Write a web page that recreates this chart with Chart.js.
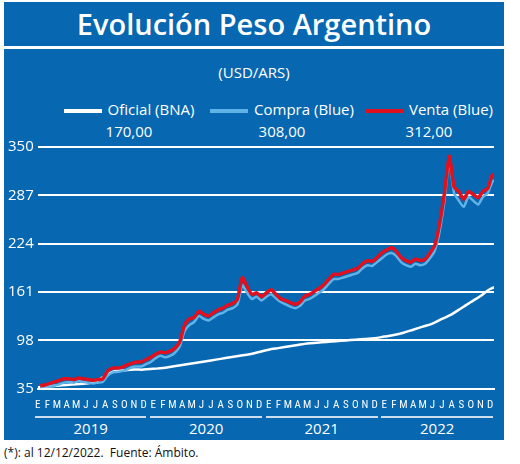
<!DOCTYPE html>
<html><head><meta charset="utf-8">
<script src="https://cdn.jsdelivr.net/npm/chart.js@4"></script>
<style>
body{margin:0;width:520px;height:464px;background:#fff;font-family:"Open Sans",sans-serif;position:relative;overflow:hidden}
.box{position:absolute;left:4px;top:2px;width:500px;height:438px;background:#0767b0}
.title{position:absolute;left:0;top:0;width:500px;height:44px;line-height:44px;text-align:center;color:#fff;font-size:29px;font-weight:600;border-bottom:3px solid #fff}
.sub{position:absolute;top:60px;width:500px;text-align:center;color:#fff;font-size:15px}
.leg{position:absolute;top:96px;color:#fff;font-size:15px;text-align:center;white-space:nowrap;line-height:22px}
.leg i{display:inline-block;width:38px;height:4px;vertical-align:middle;margin-right:6px}
.yr{position:absolute;top:414px;color:#fff;font-size:15px;text-align:center;border-top:2px solid #cde}
.foot{position:absolute;left:4px;top:444px;font-size:12px;color:#111}
canvas{position:absolute;left:0;top:132px}
</style></head><body>
<div class="box">
<div class="title">Evolución Peso Argentino</div>
<div class="sub">(USD/ARS)</div>
<div class="leg" style="left:50px;width:150px"><i style="background:#fff"></i>Oficial (BNA)<br>170,00</div>
<div class="leg" style="left:198px;width:160px"><i style="background:#5fb3e6"></i>Compra (Blue)<br>308,00</div>
<div class="leg" style="left:350px;width:150px"><i style="background:#e0101e"></i>Venta (Blue)<br>312,00</div>
<div id="years"></div>
<canvas id="chart"></canvas>
</div>
<div class="foot">(*): al 12/12/2022.&nbsp; Fuente: Ámbito.</div>
<script>
const months = ["E","F","M","A","M","J","J","A","S","O","N","D"];
const years = ["2019","2020","2021","2022"];
const yTicks = [35,98,161,224,287,350];

// monthly, official rate
const oficial = [37,38,39,40,41,42,44,52,58,59,60,60, 61,62,64,66,68,70,72,74,76,78,80,83,
  86,88,90,92,94,95,96,97,98,99,100,101, 103,105,108,112,116,120,126,132,140,148,156,165,170];
// half-month, blue
const compra = [37,38,38,39,41,43,44,43,45,44,43,42,43,44,52,56,57,58,60,63,64,64,67,70,
  75,78,76,78,82,90,110,118,122,130,126,124,128,132,134,138,140,145,170,160,152,155,150,155,
  158,153,148,145,142,140,143,150,152,156,160,165,172,178,178,180,182,184,186,192,196,195,200,205,
  210,212,208,200,196,194,198,196,198,205,215,240,280,330,290,280,272,285,280,275,285,290,305,308];
const venta = [39,40,42,44,46,48,48,47,49,48,47,46,47,48,58,62,62,63,66,68,70,70,73,76,
  80,83,82,84,88,96,118,126,128,136,132,130,134,138,140,144,146,152,180,168,158,160,155,160,
  164,158,152,150,147,145,148,156,158,162,166,171,178,184,184,186,188,190,192,198,202,201,206,212,
  216,219,214,206,202,200,204,202,204,212,222,250,290,338,298,292,282,292,288,284,292,296,314,312];

const oficialPts = oficial.map((v,i)=>({x:i,y:v}));
const compraPts = compra.map((v,i)=>({x:i/2+0.25,y:v}));
const ventaPts = venta.map((v,i)=>({x:i/2+0.25,y:v}));

const yrs = document.getElementById("years");
const canvas = document.getElementById("chart");
canvas.width = 500; canvas.height = 280;
canvas.style.width = "500px"; canvas.style.height = "280px";

const yearPlugin = {
  id: "yrs",
  afterLayout(chart){
    const x = chart.scales.x;
    yrs.innerHTML = "";
    years.forEach((y,k)=>{
      const a = x.getPixelForValue(k*12-0.3), b = x.getPixelForValue(k*12+11.3);
      yrs.innerHTML += `<div class="yr" style="left:${a}px;width:${b-a}px">${y}</div>`;
    });
  }
};

new Chart(canvas, {
  type: "line",
  data: { datasets: [
    { data: ventaPts, borderColor: "#e0101e", borderWidth: 3.5, pointRadius: 0, tension: 0.2 },
    { data: compraPts, borderColor: "#5fb3e6", borderWidth: 2.5, pointRadius: 0, tension: 0.2 },
    { data: oficialPts, borderColor: "#ffffff", borderWidth: 2.5, pointRadius: 0, tension: 0.3 }
  ]},
  options: {
    responsive: false, animation: false,
    layout: { padding: { right: 10, top: 6, bottom: 0 } },
    plugins: { legend: { display: false }, tooltip: { enabled: false } },
    scales: {
      x: {
        type: "linear", min: 0, max: 47.4,
        afterBuildTicks: s => { s.ticks = months.concat(months,months,months).map((m,i)=>({value:i})); },
        ticks: { color: "#fff", autoSkip: false, maxRotation: 0, padding: 2,
          font: { family: "Roboto Condensed, Roboto", size: 11 },
          callback: (v) => months[Math.round(v) % 12] },
        grid: { display: false },
        border: { color: "#fff", width: 2 }
      },
      y: {
        min: 35, max: 350,
        afterBuildTicks: s => { s.ticks = yTicks.map(v=>({value:v})); },
        ticks: { color: "#fff", font: { family: "Open Sans", size: 15 }, padding: 4 },
        grid: { color: "#ffffff", lineWidth: 2, drawTicks: false },
        border: { display: false }
      }
    }
  },
  plugins: [yearPlugin]
});
</script>
</body></html>
